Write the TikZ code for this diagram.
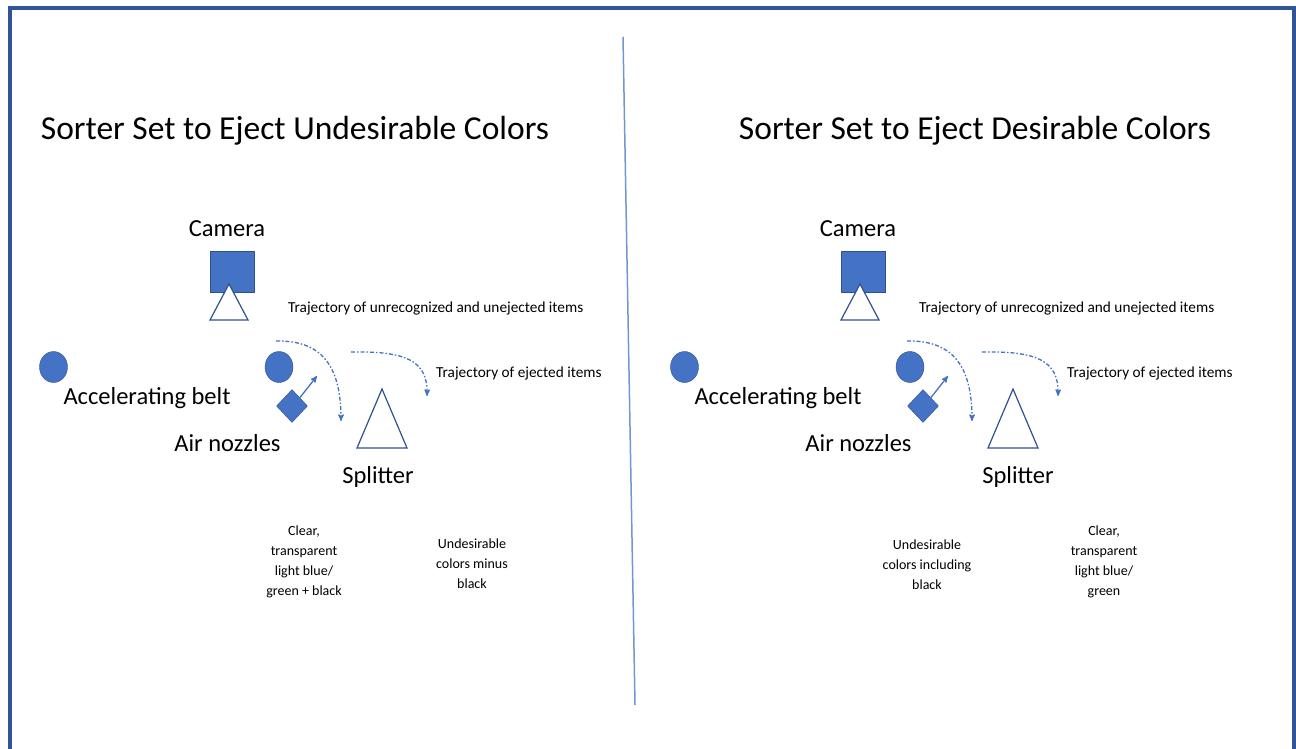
\documentclass[tikz,border=0pt]{standalone}
\usepackage{fontspec}
\setmainfont{Carlito}
\usetikzlibrary{arrows,shapes.geometric,positioning}
\definecolor{officeblue}{HTML}{4472C4}
\definecolor{darkblue}{HTML}{2F528F}
\definecolor{framecol}{HTML}{2F5597}
\tikzset{
>=stealth',
  title/.style={font=\fontsize{33.5}{40}\selectfont},
  biglabel/.style={font=\fontsize{24.5}{29}\selectfont},
  smalllabel/.style={font=\fontsize{15.3}{18}\selectfont, anchor=west, inner sep=0pt},
  binlabel/.style={font=\fontsize{14}{20}\selectfont, align=center},
  item/.style={ellipse, draw=darkblue, fill=officeblue,
    minimum width=28pt, minimum height=31pt, inner sep=0pt},
  nozzle/.style={diamond, draw=darkblue, fill=officeblue,
    minimum width=31pt, minimum height=33pt, inner sep=0pt},
  camerabox/.style={rectangle, draw=darkblue, fill=officeblue,
    minimum width=44pt, minimum height=41pt, inner sep=0pt},
  outline/.style={draw=darkblue, fill=white, line width=1.2pt},
  trajline/.style={officeblue, line width=1.3pt,
    dash pattern=on 4pt off 2pt on 1.5pt off 2pt, ->},
  jet/.style={officeblue, line width=1.3pt, ->}
}
\begin{document}
\begin{tikzpicture}[x=1pt,y=-1pt]
    \useasboundingbox (0,0) rectangle (1296,749);
    % frame, open at the bottom
    \draw[framecol, line width=4.5pt] (10,749) -- (10,8) -- (1294,8) -- (1294,749);
    % divider
    \coordinate (divtop) at (623,37);
    \coordinate (divbot) at (635,705);
    \draw[officeblue!75, line width=1.5pt] (divtop) -- (divbot);

    \node[title] (ltitle) at (295,131) {Sorter Set to Eject Undesirable Colors};
    \node[title] (rtitle) at (975,131) {Sorter Set to Eject Desirable Colors};

    \foreach \s/\dx/\spx in {l/0/378, r/631/387}{
      \begin{scope}[xshift=\dx]
        \node[biglabel] (\s camlbl) at (227,229) {Camera};
        \node[camerabox] (\s cam) at (232,271.5) {};
        \draw[outline] (229,284) -- (248,320) -- (210,320) -- cycle;
        \node[item] (\s feed) at (53.5,367) {};
        \node[biglabel] (\s belt) at (147,398) {Accelerating belt};
        \node[item] (\s item) at (279,367) {};
        \node[nozzle] (\s noz) at (292,406) {};
        \node[biglabel] (\s nozlbl) at (227.5,443) {Air nozzles};
        \draw[outline] (382,389) -- (407,448) -- (357,448) -- cycle;
        \node[biglabel] (\s split) at (\spx,477) {Splitter};
        % air jet
        \coordinate (\s jet) at (317,376);
        \draw[jet] (\s noz.north east) -- (\s jet);
        % trajectories
        \coordinate (\s passA) at (276,341);
        \coordinate (\s passB) at (341,421);
        \coordinate (\s ejA) at (351,352);
        \coordinate (\s ejB) at (427,396);
        \draw[trajline] (\s passA) .. controls (325,340) and (341,370) .. (\s passB);
        \draw[trajline] (\s ejA) .. controls (405,351) and (428,360) .. (\s ejB);
        \node[smalllabel] (\s passlbl) at (288,309) {Trajectory of unrecognized and unejected items};
        \node[smalllabel] (\s ejlbl) at (436,373) {Trajectory of ejected items};
      \end{scope}
    }

    \node[binlabel] (lbinA) at (304,562) {Clear,\\transparent\\light blue/\\green + black};
    \node[binlabel] (lbinB) at (472,564) {Undesirable\\colors minus\\black};
    \node[binlabel] (rbinA) at (927,565) {Undesirable\\colors including\\black};
    \node[binlabel] (rbinB) at (1104,562) {Clear,\\transparent\\light blue/\\green};
\end{tikzpicture}
\end{document}
